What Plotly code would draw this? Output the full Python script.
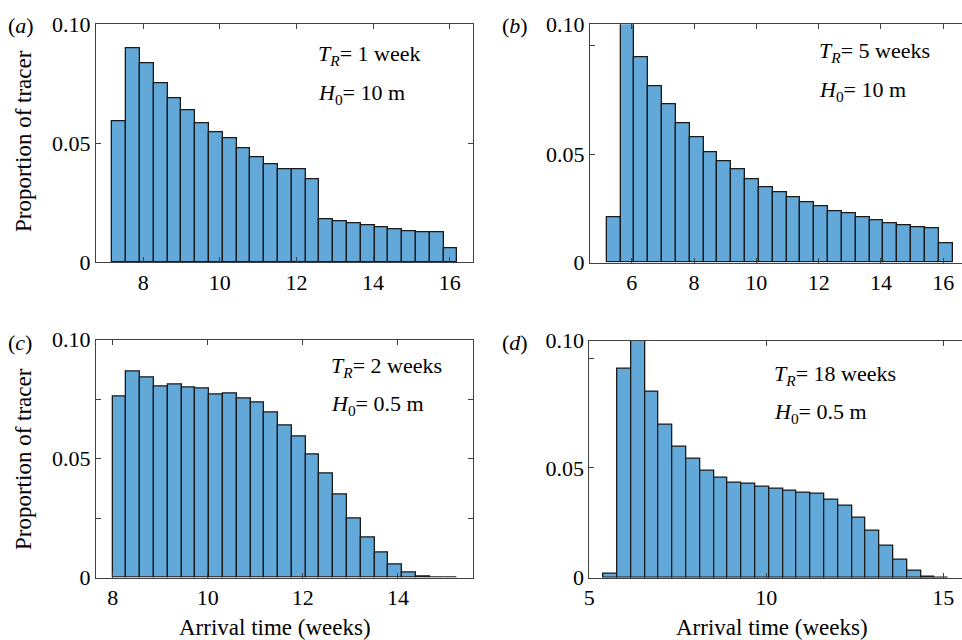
import plotly.graph_objects as go

# bin layout (start of first bin, bin width) and heights
a_start, a_width = 7.2, 0.36
a_vals = [0.0594, 0.0901, 0.0838, 0.0752, 0.0690, 0.0638, 0.0586, 0.0546, 0.0520,
          0.0477, 0.0442, 0.0413, 0.0392, 0.0392, 0.0348, 0.0180, 0.0173, 0.0163,
          0.0155, 0.0149, 0.0137, 0.0132, 0.0125, 0.0125, 0.0058]

b_start, b_width = 5.2, 0.444
b_vals = [0.0211, 0.1200, 0.0946, 0.0812, 0.0730, 0.0643, 0.0579, 0.0507, 0.0469,
          0.0429, 0.0386, 0.0349, 0.0326, 0.0299, 0.0279, 0.0259, 0.0236, 0.0225,
          0.0210, 0.0196, 0.0179, 0.0172, 0.0164, 0.0158, 0.0090]

c_start, c_width = 8.0, 0.29
c_vals = [0.0760, 0.0866, 0.0839, 0.0802, 0.0809, 0.0798, 0.0794, 0.0770, 0.0775,
          0.0754, 0.0737, 0.0695, 0.0640, 0.0594, 0.0515, 0.0437, 0.0348, 0.0247,
          0.0169, 0.0103, 0.0055, 0.0023, 0.0006, 0.0001, 0.0001]

d_start, d_width = 5.40, 0.39
d_vals = [0.0020, 0.0954, 0.1200, 0.0848, 0.0696, 0.0597, 0.0541, 0.0488, 0.0457,
          0.0435, 0.0429, 0.0413, 0.0404, 0.0397, 0.0388, 0.0385, 0.0357, 0.0328,
          0.0274, 0.0216, 0.0146, 0.0082, 0.0032, 0.0005, 0.0002]

panel_labels = ["a", "b", "c", "d"]
tr_labels = ["1 week", "5 weeks", "2 weeks", "18 weeks"]
h0_labels = ["10 m", "10 m", "0.5 m", "0.5 m"]

W, H = 962, 640
FONT = "Liberation Serif"
FILL = "#62a9d9"
EDGE = "#1a1a1a"
AX = "#404040"


def px(x):
    return x / W


def py(y):
    return 1 - y / H


fig = go.Figure()

# (b) and (d) run a little past 0.1; their "0.10" label sits at the top of the frame
panels = [
    dict(start=a_start, width=a_width, vals=a_vals, xd=(96, 473), yd=(24.3, 262.3),
         xr=[6.77, 16.61], yr=[0, 0.1], xt=[8, 10, 12, 14, 16],
         yt=[0, 0.05, 0.1], ytt=["0", "0.05", "0.10"], ym=[], left=True),
    dict(start=b_start, width=b_width, vals=b_vals, xd=(590, 962), yd=(24.3, 262.5),
         xr=[4.66, 16.6], yr=[0, 0.110], xt=[6, 8, 10, 12, 14, 16],
         yt=[0, 0.05, 0.110], ytt=["0", "0.05", "0.10"], ym=[0.1], left=False),
    dict(start=c_start, width=c_width, vals=c_vals, xd=(96, 473), yd=(339.5, 577.5),
         xr=[7.65, 15.58], yr=[0, 0.1], xt=[8, 10, 12, 14],
         yt=[0, 0.05, 0.1], ytt=["0", "0.05", "0.10"], ym=[0.025, 0.075], left=True),
    dict(start=d_start, width=d_width, vals=d_vals, xd=(589.3, 962), yd=(340.7, 577.7),
         xr=[5, 15.53], yr=[0, 0.108], xt=[5, 10, 15],
         yt=[0, 0.05, 0.108], ytt=["0", "0.05", "0.10"], ym=[0.1], left=False),
]

tick_font = dict(family=FONT, size=22, color="black")

for i, p in enumerate(panels):
    n = i + 1
    xs = [p["start"] + p["width"] * (k + 0.5) for k in range(len(p["vals"]))]
    fig.add_trace(go.Bar(
        x=xs, y=p["vals"], width=p["width"],
        marker=dict(color=FILL, line=dict(color=EDGE, width=1.3)),
        xaxis=f"x{n}", yaxis=f"y{n}", showlegend=False,
    ))
    xkey = "xaxis" if n == 1 else f"xaxis{n}"
    ykey = "yaxis" if n == 1 else f"yaxis{n}"
    fig.update_layout({
        xkey: dict(domain=[px(p["xd"][0]), px(p["xd"][1])], range=p["xr"],
                   anchor=f"y{n}", tickvals=p["xt"], ticks="inside", ticklen=5,
                   tickcolor=AX, showline=True, linecolor=AX, linewidth=1,
                   mirror="allticks", showgrid=False, zeroline=False,
                   automargin=False, tickfont=tick_font),
        ykey: dict(domain=[py(p["yd"][1]), py(p["yd"][0])], range=p["yr"],
                   anchor=f"x{n}", tickvals=p["yt"], ticktext=p["ytt"],
                   ticks="inside", ticklen=5, tickcolor=AX, showline=True,
                   linecolor=AX, linewidth=1,
                   mirror="allticks" if p["left"] else False,
                   minor=dict(tickvals=p["ym"], ticks="inside", ticklen=5,
                              tickcolor=AX, showgrid=False),
                   showgrid=False, zeroline=False,
                   automargin=False, tickfont=tick_font),
    })

annotations = []
txt = dict(family=FONT, size=22, color="black")
title_font = dict(family=FONT, size=23, color="black")

label_pos = [(6, 25), (500, 25), (6, 342), (500, 342)]
for lab, (x, y) in zip(panel_labels, label_pos):
    annotations.append(dict(x=px(x), y=py(y), xref="paper", yref="paper",
                            xanchor="left", yanchor="middle", showarrow=False,
                            text=f"(<i>{lab}</i>)", font=txt))

text_pos = [(316, 55, 94), (817, 52, 91), (329, 367, 405), (772, 375, 413)]
for tr, h0, (x, y1, y2) in zip(tr_labels, h0_labels, text_pos):
    annotations.append(dict(x=px(x), y=py(y1), xref="paper", yref="paper",
                            xanchor="left", yanchor="middle", showarrow=False,
                            text="<i>T</i><sub><i>R</i></sub>= " + tr, font=txt))
    annotations.append(dict(x=px(x), y=py(y2), xref="paper", yref="paper",
                            xanchor="left", yanchor="middle", showarrow=False,
                            text="<i>H</i><sub>0</sub>= " + h0, font=txt))

for cy in [141, 459]:
    annotations.append(dict(x=px(23), y=py(cy), xref="paper", yref="paper",
                            xanchor="center", yanchor="middle", showarrow=False,
                            textangle=-90, text="Proportion of tracer", font=title_font))

for cx in [275, 772]:
    annotations.append(dict(x=px(cx), y=py(627), xref="paper", yref="paper",
                            xanchor="center", yanchor="middle", showarrow=False,
                            text="Arrival time (weeks)", font=title_font))

fig.update_layout(
    width=W, height=H,
    margin=dict(l=0, r=0, t=0, b=0),
    paper_bgcolor="white", plot_bgcolor="white",
    bargap=0,
    annotations=annotations,
    font=dict(family=FONT, color="black"),
)

# the page's default body margin would push the figure off the 962x640 window
fig.write_html("out.html", config={"displayModeBar": False},
               post_script="document.body.style.margin = '0';")
